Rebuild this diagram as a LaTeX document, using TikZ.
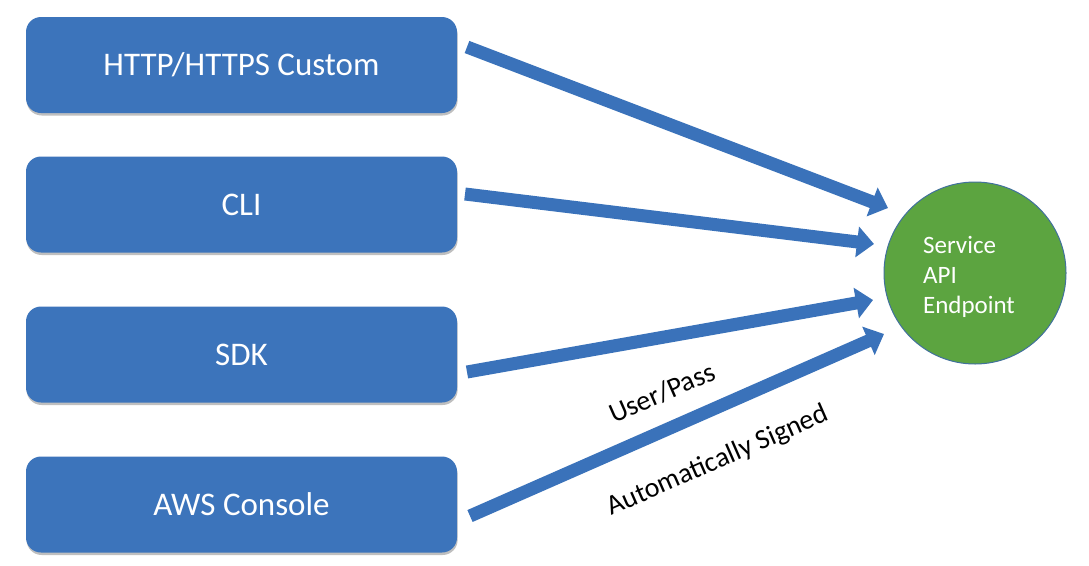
\documentclass[tikz,border=0pt]{standalone}
\usepackage{fontspec}
\setmainfont{Carlito}
\usetikzlibrary{arrows.meta,shadows}
\definecolor{boxblue}{RGB}{60,116,187}
\definecolor{arrowblue}{RGB}{58,114,186}
\definecolor{endgreen}{RGB}{92,164,64}
\definecolor{endedge}{RGB}{65,113,156}
\tikzset{
  srcbox/.style={rectangle, rounded corners=15pt, fill=boxblue, draw=none,
    minimum width=431pt, minimum height=96pt, inner sep=0pt, text=white,
    font=\fontsize{33}{38}\selectfont,
    drop shadow={shadow xshift=0.6pt, shadow yshift=-2.5pt, opacity=0.25, fill=black}},
  endpt/.style={circle, fill=endgreen, draw=endedge, line width=1pt,
    minimum size=182pt, inner sep=0pt, text=white, align=left,
    font=\fontsize{25}{30}\selectfont},
  blockarrow/.style={draw=arrowblue, line width=13pt,
    -{Triangle[length=17pt, width=30pt]}},
  lbl/.style={text=black, font=\fontsize{28}{32}\selectfont, inner sep=0pt, rotate=23.7}
}
\begin{document}
\begin{tikzpicture}[x=1pt,y=-1pt]
\useasboundingbox[fill=white] (0,0) rectangle (1089,565);
\node[srcbox] (b1) at (241.5,65) {HTTP/HTTPS Custom};
\node[srcbox] (b2) at (241.5,204.5) {CLI};
\node[srcbox] (b3) at (241.5,354.5) {SDK};
\node[srcbox] (b4) at (241.5,504.5) {AWS Console};
\node[endpt] (ep) at (975,273) {\rule{0pt}{26pt}Service\\API\\Endpoint\hspace*{12pt}};
\coordinate (s1) at (467,47);
\coordinate (t1) at (888,208);
\coordinate (s2) at (465,194);
\coordinate (t2) at (874,244);
\coordinate (s3) at (467,372);
\coordinate (t3) at (873,300);
\coordinate (s4) at (470,516);
\coordinate (t4) at (884,334);
\draw[blockarrow] (s1) -- (t1);
\draw[blockarrow] (s2) -- (t2);
\draw[blockarrow] (s3) -- (t3);
\draw[blockarrow] (s4) -- (t4);
\node[lbl] (l1) at (662,393) {User/Pass};
\node[lbl] (l2) at (718,461) {Automatically Signed};
\end{tikzpicture}
\end{document}
